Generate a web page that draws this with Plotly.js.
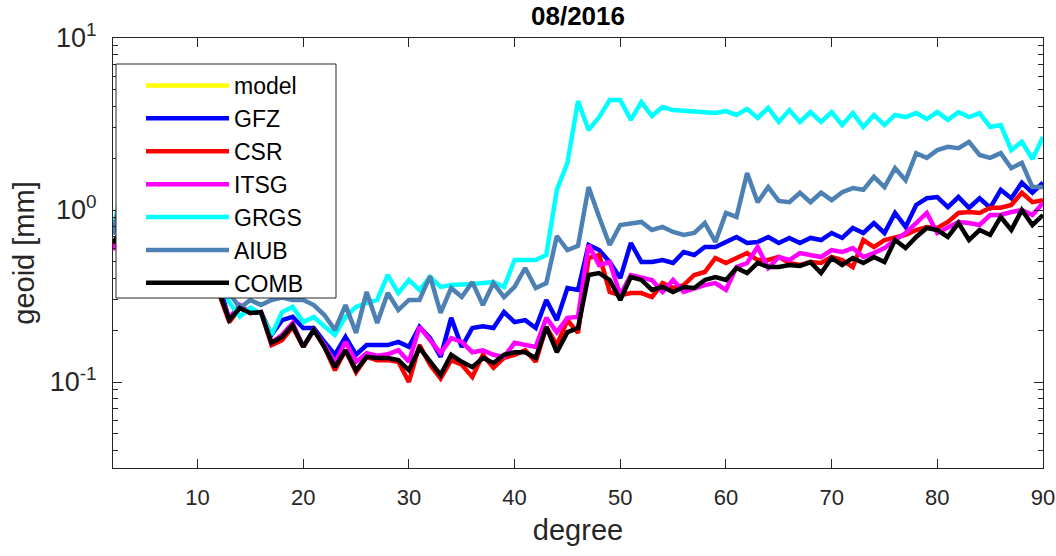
<!DOCTYPE html>
<html>
<head>
<meta charset="utf-8">
<script src="https://cdn.plot.ly/plotly-3.0.1.min.js"></script>
<style>html,body{margin:0;padding:0;background:#fff;}#chart{width:1056px;height:556px;}</style>
</head>
<body>
<div id="chart"></div>
<script>
// spherical harmonic degree 2..90
const degree = [2,3,4,5,6,7,8,9,10,11,12,13,14,15,16,17,18,19,20,21,22,23,24,25,26,27,28,29,30,31,32,33,34,35,36,37,38,39,40,41,42,43,44,45,46,47,48,49,50,51,52,53,54,55,56,57,58,59,60,61,62,63,64,65,66,67,68,69,70,71,72,73,74,75,76,77,78,79,80,81,82,83,84,85,86,87,88,89,90];

// model curve is not visible inside the plotted range
const model = [null,null,null,null,null,null,null,null,null,null,null,null,null,null,null,null,null,null,null,null,null,null,null,null,null,null,null,null,null,null,null,null,null,null,null,null,null,null,null,null,null,null,null,null,null,null,null,null,null,null,null,null,null,null,null,null,null,null,null,null,null,null,null,null,null,null,null,null,null,null,null,null,null,null,null,null,null,null,null,null,null,null,null,null,null,null,null,null,null];

const GFZ = [0.852,0.852,0.935,0.90,0.85,0.75,0.65,0.55,0.50,0.45,0.38,0.229,0.269,0.252,0.255,0.188,0.229,0.239,0.206,0.206,0.171,0.144,0.183,0.144,0.164,0.164,0.164,0.171,0.160,0.209,0.180,0.140,0.236,0.160,0.206,0.211,0.206,0.255,0.223,0.229,0.206,0.300,0.229,0.352,0.343,0.626,0.585,0.498,0.402,0.643,0.498,0.498,0.512,0.492,0.570,0.548,0.609,0.609,0.652,0.697,0.643,0.652,0.697,0.643,0.688,0.643,0.688,0.669,0.735,0.688,0.786,0.735,0.840,0.735,0.961,0.797,1.07,1.17,1.19,1.04,1.19,1.03,1.17,1.03,1.31,1.17,1.44,1.26,1.44];

const CSR = [0.62,0.80,0.90,0.85,0.80,0.70,0.60,0.52,0.45,0.40,0.33,0.223,0.269,0.252,0.255,0.164,0.175,0.209,0.160,0.201,0.160,0.117,0.153,0.114,0.140,0.134,0.134,0.131,0.100,0.164,0.126,0.105,0.134,0.126,0.107,0.144,0.121,0.138,0.144,0.153,0.131,0.209,0.164,0.229,0.193,0.526,0.548,0.334,0.320,0.329,0.329,0.312,0.376,0.352,0.366,0.419,0.436,0.526,0.492,0.526,0.562,0.512,0.512,0.533,0.492,0.479,0.498,0.492,0.533,0.512,0.466,0.669,0.609,0.669,0.688,0.716,0.765,0.797,0.786,0.852,0.961,0.974,0.961,1.03,1.03,1.07,1.26,1.11,1.14];

const ITSG = [0.585,0.78,0.88,0.85,0.80,0.70,0.60,0.52,0.45,0.40,0.34,0.236,0.280,0.252,0.255,0.169,0.188,0.220,0.160,0.201,0.164,0.129,0.171,0.131,0.147,0.142,0.145,0.153,0.131,0.209,0.175,0.147,0.180,0.171,0.149,0.153,0.144,0.140,0.169,0.164,0.160,0.236,0.195,0.236,0.239,0.626,0.479,0.498,0.320,0.419,0.408,0.392,0.334,0.392,0.334,0.352,0.366,0.376,0.343,0.466,0.492,0.609,0.460,0.533,0.512,0.562,0.548,0.533,0.585,0.570,0.601,0.533,0.562,0.601,0.669,0.735,0.840,0.961,0.735,0.786,0.852,0.840,0.818,0.935,0.935,0.974,1.00,0.935,1.10];

const GRGS = [0.72,1.66,1.66,1.20,0.95,0.80,0.70,0.60,0.55,0.50,0.42,0.29,0.24,0.27,0.25,0.188,0.255,0.273,0.223,0.239,0.211,0.188,0.239,0.273,0.288,0.300,0.419,0.329,0.392,0.343,0.408,0.357,0.366,0.366,0.371,0.376,0.381,0.357,0.512,0.512,0.512,0.548,1.31,1.88,4.30,2.92,3.47,4.36,4.36,3.34,4.24,3.52,3.97,3.81,3.76,3.71,3.71,3.66,3.76,3.57,3.87,3.43,3.92,3.25,3.81,3.25,3.71,3.25,3.71,3.12,3.66,3.04,3.57,3.12,3.57,3.47,3.66,3.38,3.71,3.34,3.71,3.47,3.66,3.04,3.12,2.23,2.49,1.98,2.66];

const AIUB = [0.72,1.44,1.03,1.00,0.90,0.80,0.75,0.65,0.60,0.55,0.45,0.33,0.27,0.30,0.28,0.30,0.31,0.30,0.300,0.280,0.245,0.201,0.280,0.193,0.334,0.220,0.329,0.262,0.300,0.300,0.413,0.252,0.352,0.312,0.381,0.280,0.376,0.312,0.357,0.460,0.352,0.376,0.706,0.585,0.618,1.36,0.911,0.626,0.818,0.829,0.852,0.765,0.797,0.745,0.716,0.735,0.840,0.652,0.961,0.911,1.64,1.11,1.36,1.13,1.11,1.26,1.11,1.26,1.14,1.27,1.34,1.31,1.56,1.36,1.75,1.49,2.14,2.01,2.23,2.33,2.29,2.49,2.09,2.01,2.14,1.75,1.88,1.36,1.36];

const COMB = [0.643,0.786,0.875,0.87,0.82,0.72,0.62,0.53,0.46,0.40,0.34,0.229,0.269,0.252,0.255,0.169,0.183,0.214,0.160,0.201,0.160,0.122,0.153,0.117,0.140,0.138,0.138,0.134,0.117,0.158,0.131,0.110,0.144,0.131,0.122,0.138,0.129,0.144,0.149,0.149,0.138,0.209,0.149,0.195,0.206,0.419,0.430,0.392,0.300,0.408,0.392,0.343,0.357,0.334,0.357,0.352,0.392,0.408,0.392,0.460,0.430,0.492,0.466,0.466,0.479,0.473,0.498,0.430,0.526,0.479,0.526,0.492,0.533,0.498,0.669,0.601,0.697,0.786,0.765,0.697,0.840,0.669,0.765,0.716,0.911,0.765,1.00,0.818,0.935];

const seriesNames = ['model','GFZ','CSR','ITSG','GRGS','AIUB','COMB'];
const seriesData = [model, GFZ, CSR, ITSG, GRGS, AIUB, COMB];
const seriesColors = ['#ffff00','#0000ff','#ff0000','#ff00ff','#00ffff','#4d80b3','#000000'];

const xTickVals = [10,20,30,40,50,60,70,80,90];
const yTickVals = [0.1, 1, 10];
const yTickText = ['10<sup>-1</sup>','10<sup>0</sup>','10<sup>1</sup>'];
const yMinorVals = [0.04,0.05,0.06,0.07,0.08,0.09,0.2,0.3,0.4,0.5,0.6,0.7,0.8,0.9,2,3,4,5,6,7,8,9];

const traces = seriesNames.map((n, i) => ({
  type: 'scatter', mode: 'lines', name: n,
  x: degree, y: seriesData[i],
  line: {color: seriesColors[i], width: 4.5}
}));

const axisColor = '#262626';
const font = 'Liberation Sans, Arial, Helvetica, sans-serif';

// plot area: x 113..1043, y 38..468
const L = 113, R = 1043, T = 38, B = 468;
const px = v => (v - L) / (R - L);
const py = v => (B - v) / (B - T);

const layout = {
  width: 1056, height: 556,
  margin: {l: L, r: 1056 - R, t: T, b: 556 - B},
  paper_bgcolor: '#fff', plot_bgcolor: '#fff',
  font: {family: font, color: axisColor, size: 22},
  title: {text: '<b>08/2016</b>', font: {size: 26, color: '#000'}, xref: 'paper', x: 0.5, xanchor: 'center', yref: 'container', y: 0.972, yanchor: 'middle'},
  showlegend: true,
  shapes: [{type: 'rect', xref: 'paper', yref: 'paper', x0: px(116), x1: px(336), y0: py(298), y1: py(64),
            fillcolor: '#fff', line: {color: axisColor, width: 1}, layer: 'above'}],
  legend: {x: px(141), xanchor: 'left', y: py(64), yanchor: 'top', bgcolor: 'rgba(0,0,0,0)', borderwidth: 0,
           font: {size: 23, color: '#000'}, itemwidth: 83, traceorder: 'normal'},
  xaxis: {range: [2, 90], tickmode: 'array', tickvals: xTickVals, ticks: 'inside', ticklen: 9, tickcolor: axisColor,
          showline: true, linecolor: axisColor, linewidth: 1, mirror: 'ticks', showgrid: false, zeroline: false,
          tickfont: {size: 22, color: axisColor}, ticklabelstandoff: 10,
          title: {text: 'degree', font: {size: 29, color: axisColor}, standoff: 10}},
  yaxis: {type: 'log', range: [-1.5, 1], tickmode: 'array', tickvals: yTickVals, ticktext: yTickText,
          ticks: 'inside', ticklen: 9, tickcolor: axisColor,
          minor: {tickmode: 'array', tickvals: yMinorVals, ticks: 'inside', ticklen: 5, tickcolor: axisColor, showgrid: false},
          showline: true, linecolor: axisColor, linewidth: 1, mirror: 'ticks', showgrid: false, zeroline: false,
          tickfont: {size: 27, color: axisColor}, ticklabelstandoff: 10,
          title: {text: 'geoid [mm]', font: {size: 29, color: axisColor}, standoff: 6}}
};

Plotly.newPlot('chart', traces, layout, {displayModeBar: false, staticPlot: true});
</script>
</body>
</html>
